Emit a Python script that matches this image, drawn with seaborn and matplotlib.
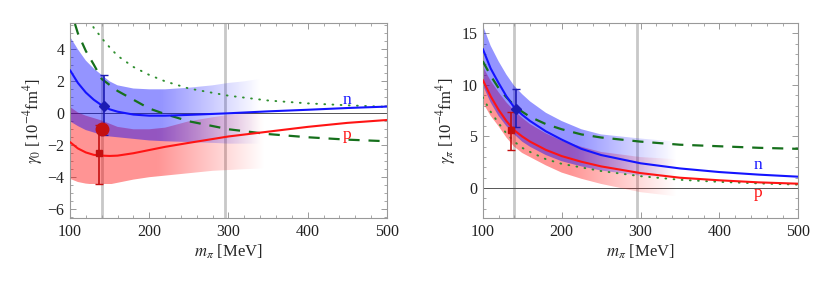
import matplotlib
matplotlib.use("Agg")
import matplotlib.pyplot as plt
import numpy as np
import seaborn as sns
from matplotlib.patches import Polygon
from matplotlib.ticker import MultipleLocator

sns.set_style("ticks")
plt.rcParams["font.family"] = ["Liberation Serif", "DejaVu Serif"]
plt.rcParams["mathtext.fontset"] = "stix"

# ---------------- gamma_0 panel ----------------
x_line0 = [100, 110, 120, 130, 140, 150, 160, 180, 200, 220, 250, 300, 350, 400, 450, 500]
n_gamma0 = [2.7, 1.9, 1.3, 0.85, 0.5, 0.25, 0.1, -0.08, -0.15, -0.15, -0.1, 0.0, 0.12, 0.22, 0.33, 0.42]
p_gamma0 = [-1.8, -2.2, -2.45, -2.6, -2.65, -2.67, -2.65, -2.5, -2.3, -2.1, -1.85, -1.45, -1.15, -0.85, -0.6, -0.42]

x_dash0 = [100, 105, 110, 120, 130, 140, 160, 180, 200, 220, 250, 300, 350, 400, 450, 500]
dash_gamma0 = [6.8, 5.8, 5.0, 3.9, 3.05, 2.15, 1.4, 0.85, 0.3, -0.05, -0.5, -1.0, -1.3, -1.5, -1.65, -1.75]

x_dot0 = [120, 130, 145, 160, 180, 200, 220, 250, 300, 350, 400, 450, 500]
dot_gamma0 = [6.3, 5.35, 4.4, 3.6, 2.9, 2.4, 2.0, 1.55, 1.1, 0.8, 0.62, 0.5, 0.4]

x_band0 = [100, 110, 120, 130, 140, 150, 160, 180, 200, 220, 250, 280, 300, 320, 345]
n_hi0 = [4.8, 4.0, 3.3, 2.8, 2.4, 2.0, 1.75, 1.55, 1.5, 1.5, 1.6, 1.75, 1.9, 2.0, 2.2]
n_lo0 = [-0.5, -0.8, -1.05, -1.2, -1.35, -1.45, -1.5, -1.6, -1.7, -1.75, -1.8, -1.85, -1.9, -1.9, -1.9]
p_hi0 = [0.4, 0.05, -0.15, -0.3, -0.45, -0.65, -0.85, -1.0, -1.0, -0.9, -0.5, -0.25, -0.1, 0.0, 0.1]
p_lo0 = [-4.1, -4.3, -4.4, -4.45, -4.45, -4.45, -4.35, -4.15, -4.0, -3.9, -3.75, -3.6, -3.55, -3.5, -3.45]

# data points: (x, y, upper, lower)
n_pt0 = (143, 0.45, 2.4, -1.35)
p_pt0 = (137, -2.5, -0.75, -4.45)
p_circle0 = (140, -0.97)

# ---------------- gamma_pi panel ----------------
x_linepi = [100, 110, 120, 130, 140, 150, 160, 180, 200, 225, 250, 300, 350, 400, 450, 500]
n_gammapi = [13.5, 11.6, 10.2, 8.9, 7.8, 7.1, 6.5, 5.5, 4.7, 3.8, 3.2, 2.4, 1.9, 1.55, 1.3, 1.1]
p_gammapi = [10.5, 8.9, 7.6, 6.5, 5.6, 5.0, 4.5, 3.7, 3.1, 2.55, 2.1, 1.45, 1.0, 0.75, 0.55, 0.42]
dash_gammapi = [12.3, 10.9, 9.7, 8.8, 8.0, 7.4, 6.9, 6.2, 5.7, 5.2, 4.9, 4.5, 4.2, 4.05, 3.9, 3.8]
dot_gammapi = [8.8, 7.4, 6.3, 5.3, 4.5, 3.9, 3.5, 2.8, 2.35, 2.0, 1.65, 1.15, 0.8, 0.6, 0.45, 0.33]

x_bandpi = [100, 110, 120, 130, 140, 150, 160, 180, 200, 225, 250, 300, 345]
n_hipi = [15.8, 13.8, 12.3, 11.0, 9.9, 9.1, 8.4, 7.3, 6.5, 5.7, 5.2, 4.8, 4.5]
n_lopi = [10.0, 8.3, 7.0, 6.0, 5.2, 4.5, 4.0, 3.2, 2.6, 2.1, 1.7, 1.2, 1.0]
p_hipi = [11.8, 10.4, 9.3, 8.3, 7.5, 6.8, 6.2, 5.3, 4.6, 4.0, 3.5, 3.0, 2.8]
p_lopi = [8.3, 7.0, 6.0, 4.9, 4.0, 3.4, 3.0, 2.2, 1.5, 0.9, 0.4, -0.4, -0.8]

n_ptpi = (142, 7.7, 9.6, 5.9)
p_ptpi = (136, 5.6, 7.4, 3.65)

BLUE = "#1414ff"
RED = "#ff1414"
GREEN = "#16701c"
DOT_GREEN = "#2f8f2f"
PT_BLUE = "#1c1cb4"
PT_RED = "#c41010"


def faded_band(ax, x, lo, hi, color, alpha, fade_start, fade_end):
    verts = np.column_stack([np.r_[x, x[::-1]], np.r_[lo, hi[::-1]]])
    patch = Polygon(verts, closed=True, facecolor="none", edgecolor="none")
    ax.add_patch(patch)
    xs = np.linspace(x[0], x[-1], 400)
    a = np.clip((fade_end - xs) / (fade_end - fade_start), 0, 1) * alpha
    rgba = np.zeros((1, len(xs), 4))
    rgba[..., :3] = matplotlib.colors.to_rgb(color)
    rgba[0, :, 3] = a
    img = ax.imshow(rgba, extent=[x[0], x[-1], min(lo), max(hi)], aspect="auto",
                    origin="lower", interpolation="bilinear", zorder=1)
    img.set_clip_path(patch)


def point(ax, pt, color, marker, ms):
    x, y, up, lo = pt
    ax.errorbar([x], [y], yerr=[[y - lo], [up - y]], fmt=marker, color=color,
                ms=ms, capsize=3, elinewidth=1.2, capthick=1.0, zorder=6)


def style(ax, ylim, ymajor, yminor, ylabel):
    ax.set_xlim(100, 500)
    ax.set_ylim(*ylim)
    ax.xaxis.set_major_locator(MultipleLocator(100))
    ax.xaxis.set_minor_locator(MultipleLocator(20))
    ax.yaxis.set_major_locator(MultipleLocator(ymajor))
    ax.yaxis.set_minor_locator(MultipleLocator(yminor))
    ax.tick_params(which="both", direction="in", top=True, right=True, color="#999999",
                   labelsize=11.5, labelcolor="#222222", pad=4)
    ax.tick_params(which="major", length=4, width=0.7)
    ax.tick_params(which="minor", length=2, width=0.6)
    for s in ax.spines.values():
        s.set_color("#999999")
        s.set_linewidth(0.8)
    ax.axvline(140, color="#c8c8c8", lw=2, zorder=0.5)
    ax.axvline(295, color="#c8c8c8", lw=2, zorder=0.5)
    ax.axhline(0, color="#555555", lw=0.7, zorder=0.6)
    ax.set_xlabel(r"$m_\pi$ [MeV]", fontsize=12, labelpad=2)
    ax.set_ylabel(ylabel, fontsize=12, labelpad=2)


fig = plt.figure(figsize=(8.3, 2.91), dpi=100)
ax0 = fig.add_axes([0.0843, 0.251, 0.382, 0.670])
ax1 = fig.add_axes([0.5816, 0.251, 0.3802, 0.670])

# left
faded_band(ax0, x_band0, p_lo0, p_hi0, "#ff0000", 0.42, 210, 345)
faded_band(ax0, x_band0, n_lo0, n_hi0, "#0000ff", 0.42, 215, 340)
sns.lineplot(x=x_dot0, y=dot_gamma0, ax=ax0, color=DOT_GREEN, lw=1.4, linestyle=(0, (0.4, 3.8)),
             dash_capstyle="round", zorder=3)
sns.lineplot(x=x_dash0, y=dash_gamma0, ax=ax0, color=GREEN, lw=1.6, linestyle=(0, (5, 4)), zorder=3)
sns.lineplot(x=x_line0, y=n_gamma0, ax=ax0, color=BLUE, lw=1.5, zorder=4)
sns.lineplot(x=x_line0, y=p_gamma0, ax=ax0, color=RED, lw=1.5, zorder=4)
point(ax0, n_pt0, PT_BLUE, "D", 5)
point(ax0, p_pt0, PT_RED, "s", 5)
ax0.plot([p_circle0[0]], [p_circle0[1]], "o", color=PT_RED, ms=9, zorder=7)
ax0.text(449, 0.85, "n", color=BLUE, fontsize=12.5, ha="center", va="center", zorder=8)
ax0.text(449, -1.35, "p", color=RED, fontsize=12.5, ha="center", va="center", zorder=8)
style(ax0, (-6.55, 5.65), 2, 0.5, r"$\gamma_0$ [10$^{-4}$fm$^4$]")

# right
faded_band(ax1, x_bandpi, p_lopi, p_hipi, "#ff0000", 0.42, 210, 345)
faded_band(ax1, x_bandpi, n_lopi, n_hipi, "#0000ff", 0.42, 220, 345)
sns.lineplot(x=x_linepi, y=dot_gammapi, ax=ax1, color=DOT_GREEN, lw=1.4, linestyle=(0, (0.4, 3.8)),
             dash_capstyle="round", zorder=3)
sns.lineplot(x=x_linepi, y=dash_gammapi, ax=ax1, color=GREEN, lw=1.6, linestyle=(0, (5, 4)), zorder=3)
sns.lineplot(x=x_linepi, y=n_gammapi, ax=ax1, color=BLUE, lw=1.5, zorder=4)
sns.lineplot(x=x_linepi, y=p_gammapi, ax=ax1, color=RED, lw=1.5, zorder=4)
point(ax1, n_ptpi, PT_BLUE, "D", 5)
point(ax1, p_ptpi, PT_RED, "s", 5)
ax1.text(449, 2.2, "n", color=BLUE, fontsize=12.5, ha="center", va="center", zorder=8)
ax1.text(449, -0.45, "p", color=RED, fontsize=12.5, ha="center", va="center", zorder=8)
style(ax1, (-2.9, 16.0), 5, 1, r"$\gamma_\pi$ [10$^{-4}$fm$^4$]")

fig.savefig("out.png", dpi=100)
